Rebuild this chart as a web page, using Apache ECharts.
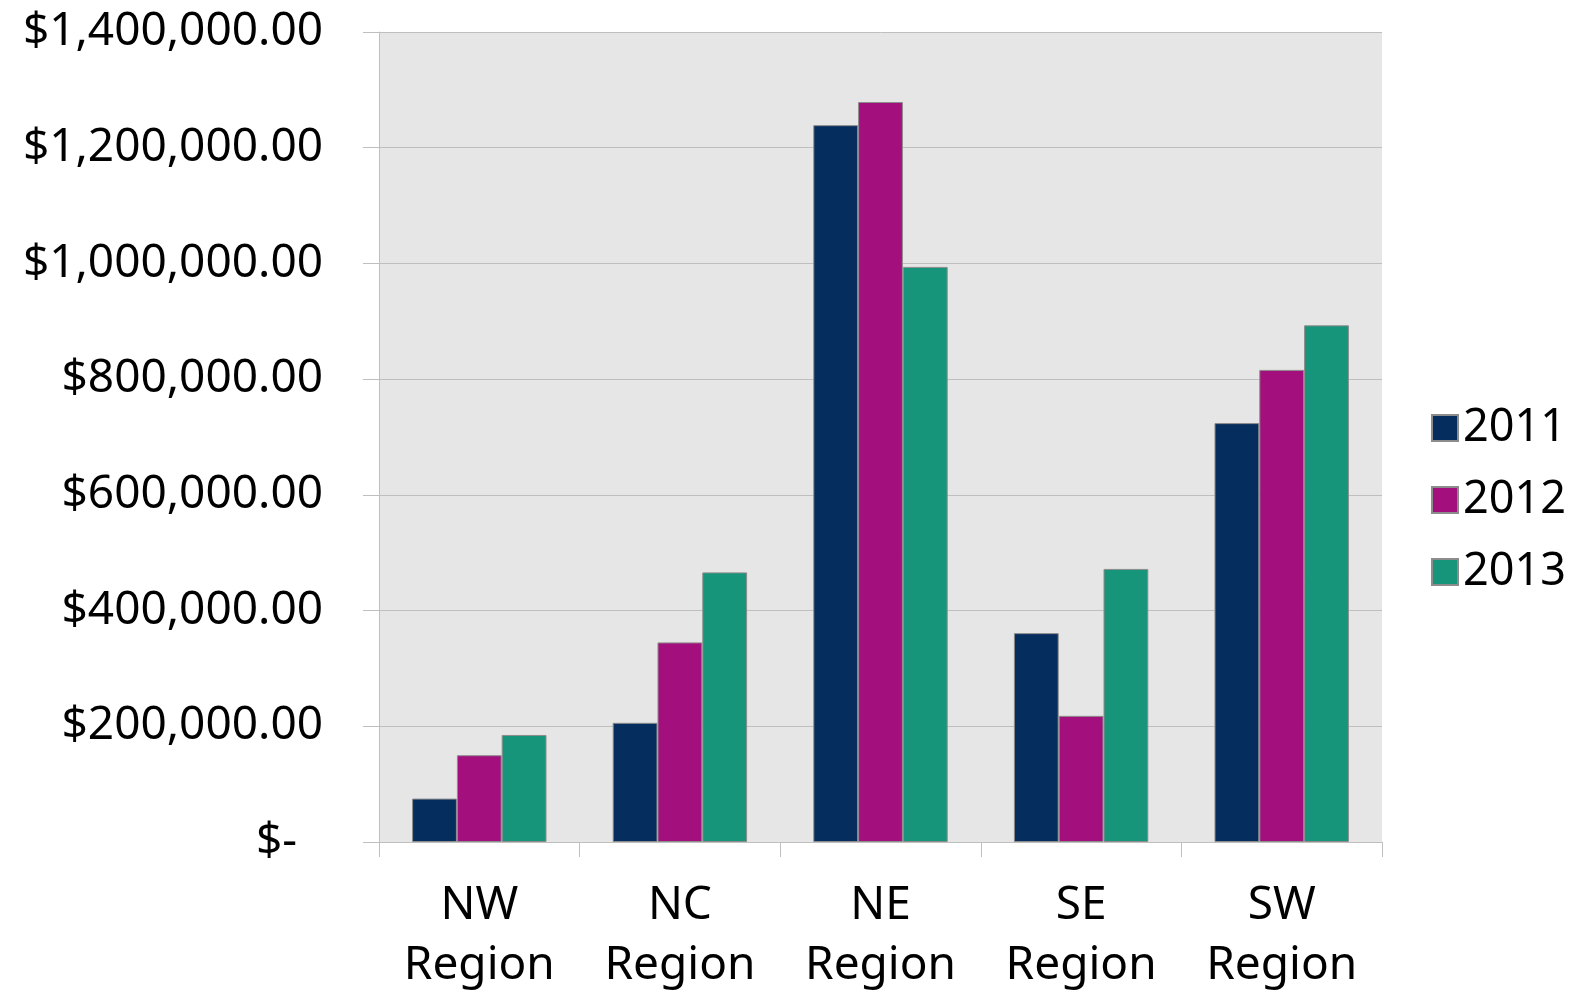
<!DOCTYPE html>
<html>
<head>
<meta charset="utf-8">
<script src="https://cdn.jsdelivr.net/npm/echarts@6/dist/echarts.min.js"></script>
<style>
  html, body { margin: 0; padding: 0; background: #ffffff; }
  #chart { width: 1581px; height: 990px; }
</style>
</head>
<body>
<div id="chart"></div>
<script>
const categories = ['NW\nRegion', 'NC\nRegion', 'NE\nRegion', 'SE\nRegion', 'SW\nRegion'];
const seriesNames = ['2011', '2012', '2013'];
const values2011 = [75000, 206000, 1239000, 361000, 724000];
const values2012 = [150000, 345000, 1279000, 218000, 816000];
const values2013 = [185000, 466000, 994000, 472000, 893000];
const colors = ['#052D5E', '#A3107D', '#16957A'];

const FONT = 'Noto Sans';
const chart = echarts.init(document.getElementById('chart'));

function fmt(v) {
  if (v === 0) return '{z|$-}';
  return '$' + v.toLocaleString('en-US', { minimumFractionDigits: 2, maximumFractionDigits: 2 });
}

const allValues = [values2011, values2012, values2013];
chart.setOption({
  animation: false,
  backgroundColor: '#ffffff',
  textStyle: { fontFamily: FONT },
  grid: {
    left: 379, right: 199, top: 32, bottom: 148,
    containLabel: false,
    outerBoundsMode: 'none',
    show: true, backgroundColor: '#E6E6E6', borderWidth: 0
  },
  legend: {
    orient: 'vertical',
    left: 1431, top: 405,
    padding: 0,
    itemWidth: 26, itemHeight: 26,
    itemGap: 26,
    itemTextGap: 13,
    icon: 'rect',
    textStyle: { fontFamily: FONT, fontSize: 45, color: '#000', lineHeight: 46 },
    data: seriesNames
  },
  xAxis: {
    type: 'category',
    data: categories,
    axisLine: { show: true, lineStyle: { color: '#BFBFBF', width: 1 } },
    axisTick: { show: true, length: 15, alignWithLabel: false, lineStyle: { color: '#BFBFBF' } },
    axisLabel: { fontFamily: FONT, fontSize: 46, color: '#000', lineHeight: 60, margin: 34 },
    splitLine: { show: false }
  },
  yAxis: {
    type: 'value',
    min: 0, max: 1400000, interval: 200000,
    axisLine: { show: true, lineStyle: { color: '#BFBFBF', width: 1 } },
    axisTick: { show: true, length: 16, lineStyle: { color: '#BFBFBF' } },
    axisLabel: {
      fontFamily: FONT, fontSize: 46, color: '#000', margin: 56,
      formatter: fmt,
      rich: { z: { fontFamily: FONT, fontSize: 46, color: '#000', padding: [0, 26, 0, 0] } }
    },
    splitLine: { show: true, lineStyle: { color: '#BFBFBF', width: 1 } }
  },
  series: seriesNames.map((name, i) => ({
    name: name,
    type: 'bar',
    data: allValues[i],
    barGap: '0%',
    barCategoryGap: '33%',
    itemStyle: { color: colors[i], borderColor: '#8C8C8C', borderWidth: 1 }
  }))
});
</script>
</body>
</html>
